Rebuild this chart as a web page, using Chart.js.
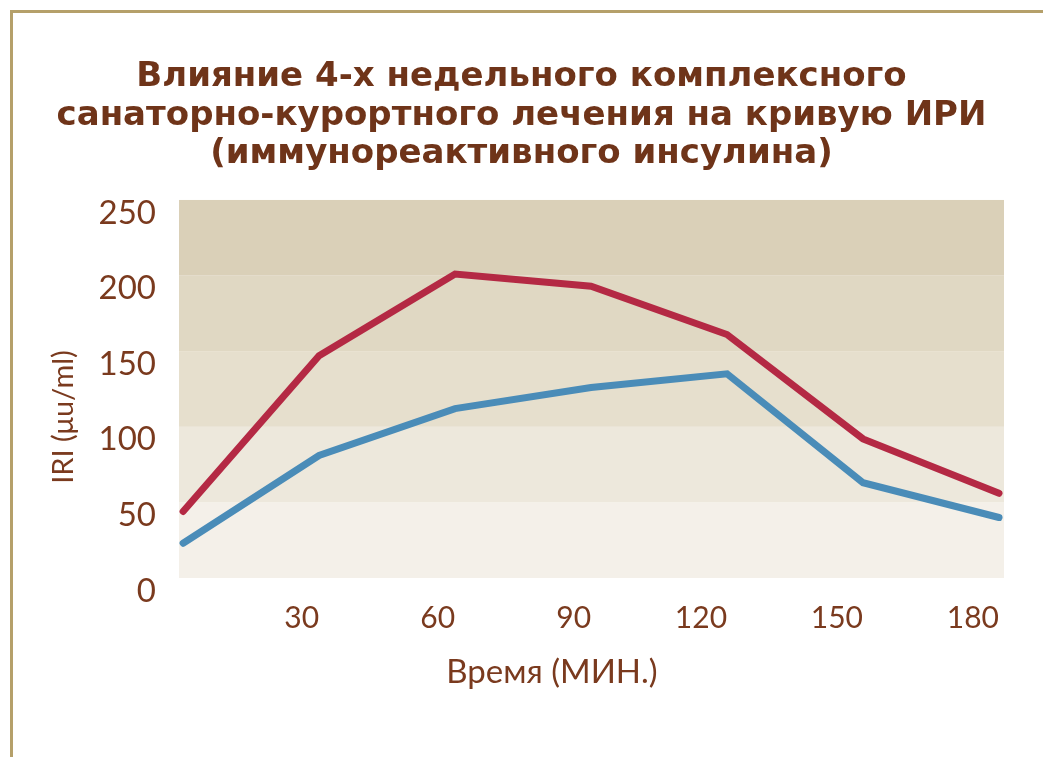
<!DOCTYPE html>
<html>
<head>
<meta charset="utf-8">
<script src="https://cdn.jsdelivr.net/npm/chart.js@4.4.1/dist/chart.umd.min.js"></script>
<style>
  html, body { margin: 0; padding: 0; background: #fff; overflow: hidden; }
  #wrap { position: relative; width: 1043px; height: 757px; }
  #frame { position: absolute; left: 10px; top: 10px; width: 1100px; height: 800px;
           border: 3px solid #b5a06a; box-sizing: border-box; }
</style>
</head>
<body>
<div id="wrap">
  <div id="frame"></div>
  <canvas id="iriChart"></canvas>
</div>
<script>
// time points (min) and the two IRI curves
var times = [0, 30, 60, 90, 120, 150, 180];
var xTickLabels = ["30", "60", "90", "120", "150", "180"];
var yTickLabels = ["0", "50", "100", "150", "200", "250"];
var beforeValues = [44, 147, 201, 193, 161, 92, 56];
var afterValues = [23, 81, 112, 126, 135, 63, 40];

var brown = "#7a3a1e";
var bandColors = ["#f4f0e9", "#ede8dc", "#e6dfcd", "#e0d8c3", "#dad0b8"];

Chart.defaults.font.family = "Lato";

function points(vals){
    return times.map(function(t, i){ return {x: t, y: vals[i]}; });
}

// shaded horizontal bands behind the plot + axis titles
var decor = {
    id: "decor",
    beforeDatasetsDraw: function(chart){
        var ctx = chart.ctx, a = chart.chartArea, y = chart.scales.y;
        var ticks = y.ticks;
        ctx.save();
        for (var i = 0; i < ticks.length - 1; i++) {
            var y0 = y.getPixelForValue(ticks[i].value);
            var y1 = y.getPixelForValue(ticks[i + 1].value);
            ctx.fillStyle = bandColors[i % bandColors.length];
            ctx.fillRect(a.left, y1, a.right - a.left, y0 - y1);
        }
        ctx.restore();
    },
    afterDraw: function(chart){
        var ctx = chart.ctx, a = chart.chartArea;
        ctx.save();
        ctx.fillStyle = brown;
        ctx.textAlign = "center";
        ctx.textBaseline = "middle";
        ctx.font = "33px Lato";
        ctx.fillText("Время (МИН.)", a.left + 373, a.bottom + 94);
        ctx.translate(64, a.top + 217);
        ctx.rotate(-Math.PI / 2);
        ctx.font = "29px Lato";
        ctx.fillText("IRI (μu/ml)", 0, 0);
        ctx.restore();
    }
};

new Chart("iriChart", {
    type: "line",
    data: {
        datasets: [{
            label: "до лечения",
            data: points(beforeValues),
            borderColor: "#b42944",
            borderWidth: 7,
            borderCapStyle: "round",
            pointRadius: 0,
            tension: 0
        }, {
            label: "после лечения",
            data: points(afterValues),
            borderColor: "#4a8cb8",
            borderWidth: 7,
            borderCapStyle: "round",
            pointRadius: 0,
            tension: 0
        }]
    },
    options: {
        responsive: true,
        maintainAspectRatio: false,
        animation: false,
        layout: {padding: 0},
        plugins: {
            legend: {display: false},
            tooltip: {enabled: false},
            title: {
                display: true,
                text: ["Влияние 4-х недельного комплексного",
                       "санаторно-курортного лечения на кривую ИРИ",
                       "(иммунореактивного инсулина)"],
                color: "#6f3419",
                font: {family: "DejaVu Sans", weight: "bold", size: 34, lineHeight: 1.132},
                padding: {top: 58, bottom: 26.5}
            }
        },
        scales: {
            x: {
                type: "linear",
                min: -0.9,
                max: 181.1,
                afterBuildTicks: function(s){
                    s.ticks = times.slice(1).map(function(t){ return {value: t}; });
                },
                afterFit: function(s){ s.height = 179; },
                grid: {display: false},
                border: {display: false},
                ticks: {
                    color: brown,
                    font: {size: 30},
                    padding: 14,
                    align: "end",
                    maxRotation: 0,
                    callback: function(v, i){ return xTickLabels[i]; }
                }
            },
            y: {
                min: 0,
                max: 250,
                afterFit: function(s){ s.width = 179; },
                grid: {display: false},
                border: {display: false},
                ticks: {
                    stepSize: 50,
                    color: brown,
                    font: {size: 33},
                    padding: 15,
                    labelOffset: 13,
                    callback: function(v, i){ return yTickLabels[i]; }
                }
            },
            // empty strip on the right so the plot stops where the reference does
            edge: {
                position: "right",
                afterFit: function(s){ s.width = 39; },
                grid: {display: false},
                border: {display: false},
                ticks: {display: false}
            }
        }
    },
    plugins: [decor]
});
</script>
</body>
</html>
